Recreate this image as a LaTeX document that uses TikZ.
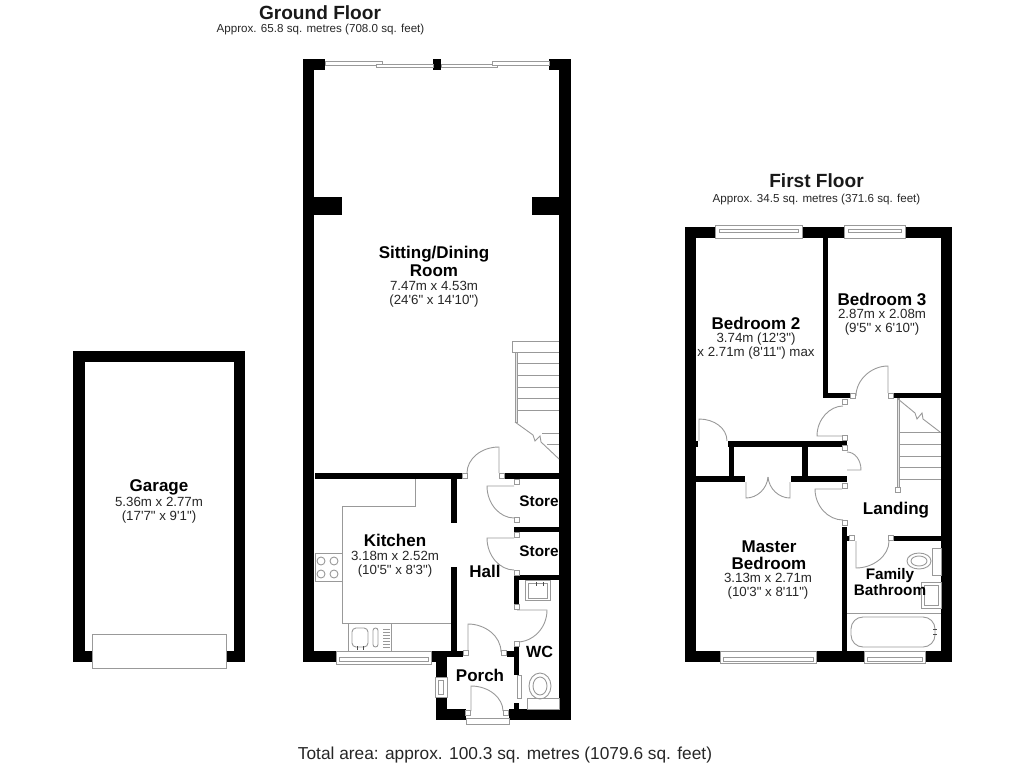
\documentclass[tikz,border=0pt]{standalone}
\usepackage{fontspec}
\setmainfont[Ligatures=TeXOff]{Liberation Sans}
\definecolor{planline}{gray}{0.6}
\tikzset{
	roomname/.style={inner sep=0pt, align=center, font=\fontsize{17}{17.5}\selectfont\bfseries},
	smallname/.style={inner sep=0pt, align=center, font=\fontsize{15.3}{15.5}\selectfont\bfseries},
	roomsize/.style={inner sep=0pt, align=center, font=\fontsize{13.3}{13.7}\selectfont, text=black!85},
	floorname/.style={inner sep=0pt, font=\fontsize{19.1}{20}\selectfont\bfseries, text=black!90},
	floorarea/.style={inner sep=0pt, font=\fontsize{11.6}{12}\selectfont, text=black!85},
	planthin/.style={draw=planline, line width=0.9pt},
	windowbox/.style={draw=planline, line width=0.9pt, fill=white}
}
\begin{document}
\begin{tikzpicture}[x=1pt, y=-1pt]
\useasboundingbox (0,0) rectangle (1024,768);

% walls
\foreach \xa/\ya/\xb/\yb in {
	73/351/245/362, 73/351/85/662, 234/351/245/662, 73/651/92/662, 226/651/245/662,
	303/59/325/70, 549/59/571/70, 433/59/441/70, 303/59/314/662, 559/59/571/720,
	303/197/342/215, 532/197/559/215, 303/651/336/662, 431/651/463/657, 431/651/447/662,
	315/473/462/479, 504/473/559/479, 451/479/457/523, 451/567/457/651,
	436/657/447/677, 436/697/447/720, 436/709/466/720, 509/709/571/720,
	507/651/519/657, 514/647/519/675, 514/703/519/709,
	514/527/559/532, 514/575/559/580, 514/580/519/604,
	685/227/715/238, 802/227/844/238, 905/227/952/238, 685/227/696/662, 941/227/952/662,
	823/238/828/398, 823/393/850/398, 893/393/941/398,
	728/441/847/447, 696/476/745/482, 791/476/847/482, 729/447/734/476, 802/447/808/476,
	696/441/698/447, 842/527/847/651, 893/536/941/541, 847/536/850/541,
	685/651/720/662, 816/651/864/662, 925/651/952/662%
} {
	\fill[black] (\xa,\yb) rectangle (\xb,\ya);
}

% doors
\draw[planthin] (499,473) -- (499,447) .. controls (481,447) and (467,459) .. (467,473);
\draw[planthin] (514,486) -- (487,486) .. controls (487,504) and (500,518) .. (514,518);
\draw[planthin] (514,538) -- (487,538) .. controls (487,556) and (500,570) .. (514,570);
\draw[planthin] (517,610) -- (547,610) .. controls (547,628) and (533,642) .. (517,642);
\draw[planthin] (468,651) -- (468,624) .. controls (485,624) and (501,636) .. (501,652);
\draw[planthin] (471,711) -- (471,686) .. controls (489,686) and (503,698) .. (503,711);
\draw[planthin] (888,393) -- (888,366) .. controls (871,366) and (856,380) .. (856,396);
\draw[planthin] (842,436) -- (817,436) .. controls (817,419) and (830,406) .. (843,406);
\draw[planthin] (847,470) -- (861,470) .. controls (861,460) and (855,452) .. (847,452);
\draw[planthin] (699,441) -- (699,419) .. controls (714,419) and (727,428) .. (727,441);
\draw[planthin] (746,482) -- (746,498) .. controls (757,498) and (767,489) .. (768,477);
\draw[planthin] (790,482) -- (790,498) .. controls (779,498) and (769,489) .. (768,477);
\draw[planthin] (842,489) -- (815,489) .. controls (815,506) and (828,520) .. (843,520);
\draw[planthin] (856,541) -- (856,568) .. controls (873,568) and (889,556) .. (889,541);

% door jambs
\foreach \x/\y in {
	464.5/476, 501.5/476, 517/482, 517/520, 517/535, 517/573, 517/607, 517/644,
	466/653, 504/653, 468/713, 506/713,
	853/396, 891/396, 845/402, 845/438, 845/448, 845/486, 845/523, 852/538, 891/538%
} {
	\draw[planline, fill=white, line width=0.8pt] (\x-2.5,\y-2.5) rectangle (\x+2.5,\y+2.5);
}

% windows
\draw[windowbox] (325,61) rectangle (382,65);
\draw[windowbox] (376,64) rectangle (433,67);
\draw[windowbox] (441,64) rectangle (497,67);
\draw[windowbox] (492,61) rectangle (549,65);
\foreach \xa/\xb/\ya/\yb in {336/431/651/664, 720/816/651/663, 864/925/651/663} {
	\draw[windowbox] (\xa,\ya) rectangle (\xb,\yb);
	\draw[planthin] (\xa+3,\ya+6) rectangle (\xb-3,\ya+10);
}
\foreach \xa/\xb in {715/802, 844/905} {
	\draw[windowbox] (\xa,225) rectangle (\xb,238);
	\draw[planthin] (\xa+4,229) rectangle (\xb-4,232);
}
\draw[windowbox] (435,677) rectangle (447,697);
\draw[planthin] (438,680) rectangle (443,694);
\draw[windowbox] (517,675) rectangle (521,698);
\draw[windowbox] (466,718) rectangle (509,724);
\draw[windowbox] (92,634) rectangle (226,668);

% kitchen
\draw[planthin] (415,479) -- (415,506) -- (342,506) -- (342,623) -- (451,623);
\draw[planthin] (315,553) rectangle (342,581);
\foreach \x/\y in {321/557, 334/557, 321/570, 334/570} {
	\draw[planthin] (\x,\y+4) circle[radius=4];
}
\draw[planthin] (348,623) -- (348,651);
\draw[planthin] (391,623) -- (391,651);
\draw[planthin, rounded corners=4pt] (352,628) rectangle (368,647);
\draw[planthin, rounded corners=2.5pt] (373,628) rectangle (378,647);
\foreach \y in {629,632,...,647} {
	\draw[planline, line width=0.5pt] (383,\y) -- (390,\y);
}
\draw[black!70, line width=1pt] (357,646) -- (357,650);
\draw[black!70, line width=1pt] (363,646) -- (363,650);

% WC
\draw[planthin] (525,580) rectangle (550,600);
\draw[planthin] (528,583) rectangle (547,598);
\draw[black!70, line width=0.8pt] (536,582) -- (536,586);
\draw[black!70, line width=0.8pt] (543,582) -- (543,586);
\draw[planthin] (540,686) ellipse[x radius=11, y radius=13];
\draw[planthin] (540,686) ellipse[x radius=7, y radius=9];
\draw[planthin] (527,698) rectangle (559,709);

% stairs ground floor
\draw[planthin] (559,341) -- (512,341) -- (512,352) -- (559,352);
\draw[planthin, fill=black!10] (515,352) rectangle (517,422);
\foreach \y in {352,363,375,387,398,410} {
	\draw[planthin] (517,\y) -- (559,\y);
}
\draw[planthin] (515,422) -- (533,435) -- (535,441) -- (540,436) -- (541,442) -- (559,459);
\draw[planthin] (542,433) -- (559,433);
\draw[planthin] (547,444) -- (559,444);

% stairs first floor
\draw[planthin, fill=black!10] (897,398) rectangle (899,489);
\draw[planthin, fill=white] (895.5,487.5) rectangle (900.5,492.5);
\foreach \y in {432,444,456,467,479} {
	\draw[planthin] (899,\y) -- (941,\y);
}
\draw[planthin] (898,399) -- (915,413) -- (917,419) -- (922,413) -- (923,419) -- (940,432);

% bathroom
\draw[planthin] (919,561) ellipse[x radius=12, y radius=8];
\draw[planthin] (919,561) ellipse[x radius=8, y radius=5];
\draw[planthin] (932,548) rectangle (941,575);
\draw[planthin] (921,582) rectangle (941,608);
\draw[planthin] (924,585) rectangle (938,605);
\draw[planthin] (847,613) -- (941,613);
\draw[planthin, rounded corners=12pt] (851,617) -- (851,647) -- (935,647) -- (935,617) -- cycle;
\draw[black!70, line width=0.8pt] (933,629) -- (937,629);
\draw[black!70, line width=0.8pt] (933,634) -- (937,634);

% labels
\node[floorname] (groundtitle) at (320,13) {Ground Floor};
\node[floorarea] (groundarea) at (320.5,30) {Approx. 65.8 sq. metres (708.0 sq. feet)};
\node[floorname] (firsttitle) at (816.5,181) {First Floor};
\node[floorarea] (firstarea) at (816.5,199) {Approx. 34.5 sq. metres (371.6 sq. feet)};
\node[inner sep=0pt, font=\fontsize{17.3}{18}\selectfont, text=black!85] (totalarea) at (505,755) {Total area: approx. 100.3 sq. metres (1079.6 sq. feet)};

\node[roomname] (sitting) at (434,261.5) {Sitting/Dining\\Room};
\node[roomsize] (sittingsize) at (434,294) {7.47m x 4.53m\\(24'6" x 14'10")};
\node[roomname] (garage) at (159,487) {Garage};
\node[roomsize] (garagesize) at (159,510) {5.36m x 2.77m\\(17'7" x 9'1")};
\node[roomname] (kitchen) at (395,540) {Kitchen};
\node[roomsize] (kitchensize) at (395,564) {3.18m x 2.52m\\(10'5" x 8'3")};
\node[roomname] (hall) at (485,571) {Hall};
\node[smallname] (storeone) at (539,501) {Store};
\node[smallname] (storetwo) at (539,551) {Store};
\node[roomname, font=\fontsize{16.2}{17}\selectfont\bfseries] (wc) at (539.5,652) {WC};
\node[roomname] (porch) at (480,675) {Porch};
\node[roomname] (bedtwo) at (756,323) {Bedroom 2};
\node[roomsize] (bedtwosize) at (756,346) {3.74m (12'3")\\x 2.71m (8'11") max};
\node[roomname] (bedthree) at (882,299) {Bedroom 3};
\node[roomsize] (bedthreesize) at (882,322) {2.87m x 2.08m\\(9'5" x 6'10")};
\node[roomname] (landing) at (896,510) {Landing};
\node[roomname] (master) at (769,555) {Master\\Bedroom};
\node[roomsize] (mastersize) at (768,586) {3.13m x 2.71m\\(10'3" x 8'11")};
\node[smallname] (bathroom) at (890,582) {Family\\Bathroom};

\end{tikzpicture}
\end{document}
